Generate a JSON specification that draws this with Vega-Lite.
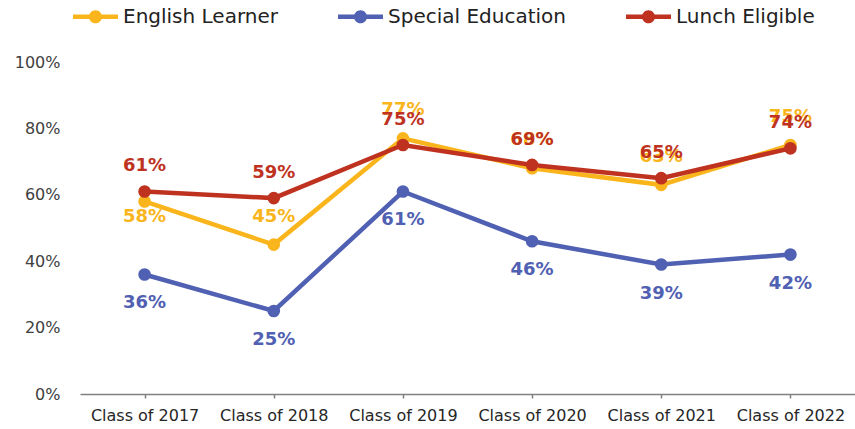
{
  "$schema": "https://vega.github.io/schema/vega-lite/v6.json",
  "autosize": "none",
  "width": 775,
  "height": 332,
  "padding": {"left": 80, "top": 62, "right": 0, "bottom": 35},
  "background": "white",
  "config": {"view": {"stroke": null}},
  "data": {"values": [
    {"cls": "Class of 2017", "series": "English Learner", "v": 0.58},
    {"cls": "Class of 2018", "series": "English Learner", "v": 0.45},
    {"cls": "Class of 2019", "series": "English Learner", "v": 0.77},
    {"cls": "Class of 2020", "series": "English Learner", "v": 0.68},
    {"cls": "Class of 2021", "series": "English Learner", "v": 0.63},
    {"cls": "Class of 2022", "series": "English Learner", "v": 0.75},
    {"cls": "Class of 2017", "series": "Special Education", "v": 0.36},
    {"cls": "Class of 2018", "series": "Special Education", "v": 0.25},
    {"cls": "Class of 2019", "series": "Special Education", "v": 0.61},
    {"cls": "Class of 2020", "series": "Special Education", "v": 0.46},
    {"cls": "Class of 2021", "series": "Special Education", "v": 0.39},
    {"cls": "Class of 2022", "series": "Special Education", "v": 0.42},
    {"cls": "Class of 2017", "series": "Lunch Eligible", "v": 0.61},
    {"cls": "Class of 2018", "series": "Lunch Eligible", "v": 0.59},
    {"cls": "Class of 2019", "series": "Lunch Eligible", "v": 0.75},
    {"cls": "Class of 2020", "series": "Lunch Eligible", "v": 0.69},
    {"cls": "Class of 2021", "series": "Lunch Eligible", "v": 0.65},
    {"cls": "Class of 2022", "series": "Lunch Eligible", "v": 0.74}
  ]},
  "encoding": {
    "x": {"field": "cls", "type": "ordinal", "sort": null,
      "scale": {"type": "point", "padding": 0.5},
      "axis": {"title": null, "labelAngle": 0, "labelFont": "DejaVu Sans", "labelFontSize": 16,
        "labelColor": "#262626", "domainColor": "#808080", "domainWidth": 1.5, "tickColor": "#808080",
        "tickWidth": 1.5, "tickSize": 4, "labelPadding": 9, "grid": false}},
    "y": {"field": "v", "type": "quantitative",
      "scale": {"domain": [0, 1], "nice": false},
      "axis": {"title": null, "values": [0, 0.2, 0.4, 0.6, 0.8, 1], "format": ".0%", "grid": false,
        "domain": false, "ticks": false, "tickSize": 0, "labelPadding": 20,
        "labelFont": "DejaVu Sans", "labelFontSize": 16, "labelColor": "#404040"}},
    "color": {"field": "series", "type": "nominal",
      "scale": {"domain": ["English Learner", "Special Education", "Lunch Eligible"],
        "range": ["#F9B51B", "#5060B2", "#BE321F"]},
      "legend": {"title": null, "orient": "none", "direction": "horizontal", "legendX": -7, "legendY": -68,
        "symbolType": "M-1,-0.1 L1,-0.1 L1,0.1 L-1,0.1 Z M0.29,0 A0.29,0.29 0 1,1 -0.29,0 A0.29,0.29 0 1,1 0.29,0 Z",
        "symbolSize": 2025, "symbolStrokeWidth": 0, "symbolOpacity": 1,
        "labelFont": "DejaVu Sans", "labelFontSize": 20, "labelColor": "#222222", "labelOffset": 5,
        "columnPadding": 60, "labelLimit": 400}}
  },
  "layer": [
    {"mark": {"type": "line", "strokeWidth": 4.5}},
    {"mark": {"type": "point", "filled": true, "size": 160, "opacity": 1}},
    {"transform": [{"filter": "datum.series == 'English Learner' && datum.cls == 'Class of 2017'"}],
      "mark": {"type": "text", "dy": 16, "font": "DejaVu Sans", "fontSize": 18, "fontWeight": "bold"},
      "encoding": {"text": {"field": "v", "format": ".0%"}}},
    {"transform": [{"filter": "datum.series == 'English Learner' && datum.cls != 'Class of 2017'"}],
      "mark": {"type": "text", "dy": -28, "font": "DejaVu Sans", "fontSize": 18, "fontWeight": "bold"},
      "encoding": {"text": {"field": "v", "format": ".0%"}}},
    {"transform": [{"filter": "datum.series == 'Special Education'"}],
      "mark": {"type": "text", "dy": 29, "font": "DejaVu Sans", "fontSize": 18, "fontWeight": "bold"},
      "encoding": {"text": {"field": "v", "format": ".0%"}}},
    {"transform": [{"filter": "datum.series == 'Lunch Eligible'"}],
      "mark": {"type": "text", "dy": -25, "font": "DejaVu Sans", "fontSize": 18, "fontWeight": "bold"},
      "encoding": {"text": {"field": "v", "format": ".0%"}}}
  ]
}
